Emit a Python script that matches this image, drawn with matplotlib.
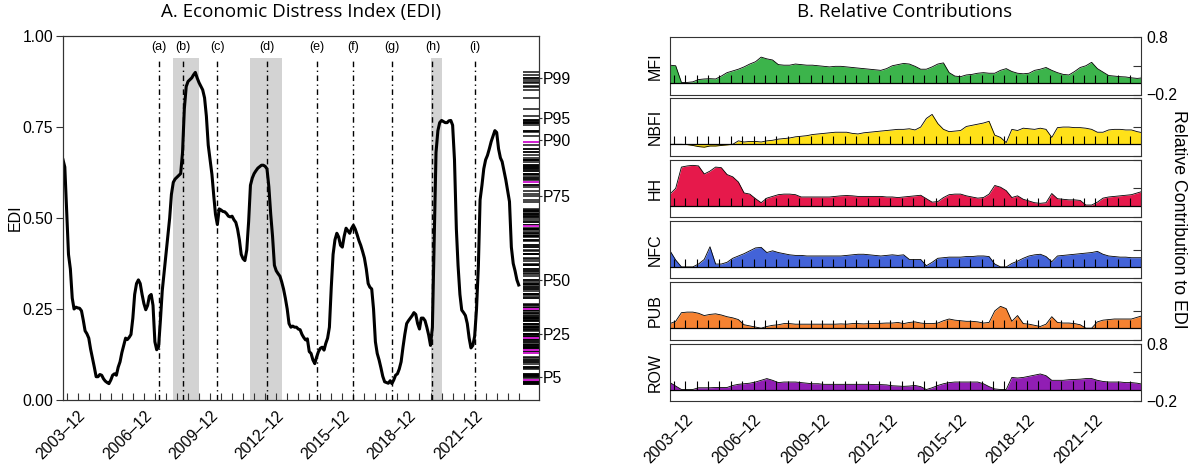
import numpy as np
import pandas as pd
import matplotlib
matplotlib.use("Agg")
import matplotlib.pyplot as plt
from matplotlib.transforms import blended_transform_factory

plt.rcParams['font.family'] = ['Liberation Sans', 'DejaVu Sans']

# ---------------- data ----------------
edi = [
    0.66, 0.64, 0.52, 0.40, 0.36, 0.28, 0.25, 0.255, 0.253, 0.252, 0.245, 0.22,
    0.19, 0.182, 0.17, 0.14, 0.115, 0.09, 0.064, 0.064, 0.07, 0.068, 0.058, 0.052,
    0.048, 0.045, 0.055, 0.068, 0.072, 0.068, 0.09, 0.105, 0.13, 0.15, 0.17, 0.166,
    0.172, 0.18, 0.225, 0.29, 0.32, 0.33, 0.32, 0.29, 0.265, 0.248, 0.26, 0.285,
    0.29, 0.26, 0.16, 0.138, 0.146, 0.22, 0.30, 0.35, 0.40, 0.45, 0.50, 0.565,
    0.598, 0.607, 0.612, 0.617, 0.622, 0.68, 0.80, 0.861, 0.875, 0.88, 0.885, 0.893,
    0.90, 0.885, 0.872, 0.862, 0.852, 0.83, 0.78, 0.70, 0.66, 0.62, 0.56, 0.51,
    0.482, 0.525, 0.522, 0.518, 0.517, 0.512, 0.505, 0.503, 0.505, 0.495, 0.488, 0.47,
    0.44, 0.40, 0.388, 0.383, 0.412, 0.49, 0.59, 0.61, 0.622, 0.63, 0.637, 0.641,
    0.645, 0.645, 0.642, 0.635, 0.586, 0.51, 0.45, 0.37, 0.355, 0.347, 0.34, 0.325,
    0.305, 0.28, 0.25, 0.21, 0.20, 0.203, 0.20, 0.20, 0.195, 0.193, 0.18, 0.172,
    0.165, 0.168, 0.133, 0.128, 0.11, 0.10, 0.118, 0.133, 0.142, 0.145, 0.137, 0.155,
    0.17, 0.20, 0.31, 0.40, 0.44, 0.458, 0.448, 0.425, 0.42, 0.45, 0.472, 0.465,
    0.458, 0.471, 0.48, 0.47, 0.455, 0.438, 0.425, 0.408, 0.39, 0.36, 0.32, 0.31,
    0.305, 0.25, 0.16, 0.128, 0.11, 0.088, 0.065, 0.05, 0.048, 0.046, 0.053, 0.045,
    0.055, 0.068, 0.072, 0.085, 0.105, 0.145, 0.18, 0.21, 0.218, 0.225, 0.232, 0.24,
    0.235, 0.21, 0.195, 0.225, 0.225, 0.218, 0.20, 0.178, 0.15, 0.20, 0.45, 0.68,
    0.74, 0.762, 0.768, 0.765, 0.762, 0.762, 0.767, 0.768, 0.755, 0.66, 0.47, 0.37,
    0.29, 0.247, 0.24, 0.232, 0.21, 0.17, 0.143, 0.15, 0.175, 0.25, 0.37, 0.55,
    0.59, 0.635, 0.66, 0.672, 0.69, 0.71, 0.725, 0.74, 0.735, 0.69, 0.665, 0.655,
    0.63, 0.605, 0.575, 0.545, 0.42, 0.375, 0.355, 0.33, 0.316,
]
edi_start = "2003-04-01"

event_labels = ["(a)", "(b)", "(c)", "(d)", "(e)", "(f)", "(g)", "(h)", "(i)"]
event_dates = ["2007-08-01", "2008-09-01", "2010-04-01", "2012-07-01", "2014-10-01",
               "2016-06-01", "2018-03-01", "2020-01-01", "2021-12-01"]
recession_starts = ["2008-04-01", "2011-10-01", "2019-12-01"]
recession_ends = ["2009-06-01", "2013-03-01", "2020-06-01"]

pct_labels = ["P5", "P25", "P50", "P75", "P90", "P95", "P99"]
pct_levels = [5, 25, 50, 75, 90, 95, 99]
highlight_values = [0.71, 0.598, 0.479, 0.249, 0.170, 0.137, 0.130, 0.055]

sectors = ["MFI", "NBFI", "HH", "NFC", "PUB", "ROW"]
sector_colors = ["#3cb44b", "#ffe119", "#e6194b", "#4363d8", "#f58231", "#911eb4"]
contrib_start = "2003-04-01"

mfi = [0.31, 0.30, 0.01, 0.01, 0.02, 0.06, 0.07, 0.075, 0.07, 0.12, 0.18, 0.21,
       0.24, 0.28, 0.33, 0.37, 0.45, 0.42, 0.40, 0.32, 0.31, 0.31, 0.33, 0.32,
       0.31, 0.31, 0.30, 0.29, 0.28, 0.29, 0.29, 0.28, 0.27, 0.26, 0.25, 0.24,
       0.23, 0.22, 0.25, 0.30, 0.32, 0.34, 0.33, 0.29, 0.24, 0.24, 0.28, 0.33,
       0.35, 0.18, 0.12, 0.11, 0.14, 0.15, 0.17, 0.18, 0.17, 0.17, 0.22, 0.25,
       0.20, 0.17, 0.16, 0.17, 0.22, 0.24, 0.27, 0.22, 0.18, 0.15, 0.14, 0.20,
       0.27, 0.30, 0.36, 0.25, 0.19, 0.13, 0.12, 0.11, 0.105, 0.09, 0.08, 0.09]
nbfi = [0.0, 0.0, 0.0, -0.005, -0.02, -0.04, -0.05, -0.03, -0.03, -0.02, -0.01, 0.0,
        0.06, 0.04, 0.05, 0.05, 0.04, 0.06, 0.07, 0.09, 0.10, 0.11, 0.13, 0.14,
        0.15, 0.17, 0.18, 0.19, 0.20, 0.21, 0.21, 0.21, 0.19, 0.18, 0.20, 0.21,
        0.22, 0.23, 0.24, 0.25, 0.26, 0.26, 0.27, 0.25, 0.30, 0.45, 0.52, 0.36,
        0.26, 0.22, 0.23, 0.24, 0.31, 0.33, 0.35, 0.37, 0.40, 0.16, 0.12, 0.03,
        0.26, 0.24, 0.28, 0.27, 0.26, 0.28, 0.26, 0.12, 0.29, 0.30, 0.30, 0.29,
        0.29, 0.28, 0.26, 0.21, 0.21, 0.25, 0.26, 0.26, 0.25, 0.25, 0.22, 0.20]
hh = [0.20, 0.30, 0.67, 0.69, 0.70, 0.69, 0.55, 0.60, 0.67, 0.66, 0.54, 0.50,
      0.41, 0.22, 0.20, 0.12, 0.05, 0.13, 0.16, 0.19, 0.20, 0.20, 0.19, 0.15,
      0.15, 0.15, 0.15, 0.15, 0.15, 0.16, 0.17, 0.175, 0.17, 0.16, 0.16, 0.16,
      0.16, 0.16, 0.15, 0.15, 0.14, 0.15, 0.16, 0.17, 0.18, 0.12, 0.06, 0.07,
      0.14, 0.19, 0.20, 0.20, 0.17, 0.15, 0.13, 0.14, 0.20, 0.35, 0.32, 0.26,
      0.14, 0.17, 0.11, 0.08, 0.05, 0.04, 0.05, 0.21, 0.12, 0.11, 0.10, 0.10,
      0.09, 0.01, 0.01, 0.06, 0.13, 0.15, 0.16, 0.17, 0.18, 0.19, 0.22, 0.25]
nfc = [0.28, 0.12, 0.0, 0.0, 0.0, 0.05, 0.13, 0.35, 0.05, 0.05, 0.08, 0.15,
       0.19, 0.23, 0.28, 0.33, 0.34, 0.25, 0.28, 0.25, 0.23, 0.21, 0.20, 0.20,
       0.19, 0.19, 0.19, 0.19, 0.19, 0.19, 0.19, 0.20, 0.21, 0.22, 0.22, 0.21,
       0.20, 0.19, 0.20, 0.21, 0.20, 0.21, 0.13, 0.13, 0.13, 0.02, 0.08, 0.15,
       0.16, 0.17, 0.17, 0.17, 0.18, 0.18, 0.19, 0.19, 0.18, 0.05, 0.0, 0.0,
       0.06, 0.10, 0.15, 0.19, 0.21, 0.22, 0.18, 0.09, 0.19, 0.20, 0.21, 0.22,
       0.23, 0.24, 0.25, 0.27, 0.22, 0.19, 0.18, 0.17, 0.17, 0.16, 0.16, 0.16]
pub = [0.08, 0.12, 0.27, 0.28, 0.28, 0.26, 0.22, 0.24, 0.25, 0.23, 0.20, 0.18,
       0.15, 0.06, 0.04, 0.02, 0.0, 0.03, 0.05, 0.06, 0.08, 0.08, 0.07, 0.07,
       0.07, 0.07, 0.07, 0.07, 0.07, 0.07, 0.075, 0.07, 0.08, 0.08, 0.075, 0.08,
       0.08, 0.085, 0.09, 0.09, 0.10, 0.08, 0.10, 0.11, 0.09, 0.08, 0.08, 0.09,
       0.13, 0.16, 0.14, 0.13, 0.12, 0.12, 0.11, 0.09, 0.10, 0.30, 0.38, 0.34,
       0.12, 0.22, 0.08, 0.07, 0.05, 0.03, 0.07, 0.20, 0.10, 0.09, 0.09, 0.08,
       0.06, 0.0, 0.0, 0.11, 0.14, 0.15, 0.16, 0.16, 0.16, 0.16, 0.19, 0.22]
row = [0.12, 0.06, 0.0, 0.0, 0.0, 0.03, 0.03, 0.03, 0.035, 0.035, 0.035, 0.07,
       0.09, 0.10, 0.11, 0.13, 0.16, 0.19, 0.16, 0.12, 0.13, 0.13, 0.13, 0.12,
       0.11, 0.10, 0.10, 0.09, 0.09, 0.09, 0.09, 0.09, 0.09, 0.09, 0.09, 0.09,
       0.085, 0.085, 0.08, 0.065, 0.06, 0.055, 0.06, 0.07, 0.05, 0.0, 0.03, 0.07,
       0.10, 0.12, 0.13, 0.13, 0.13, 0.13, 0.13, 0.10, 0.05, 0.01, 0.0, 0.0,
       0.21, 0.20, 0.21, 0.23, 0.25, 0.27, 0.24, 0.16, 0.16, 0.16, 0.17, 0.175,
       0.18, 0.19, 0.19, 0.16, 0.14, 0.13, 0.13, 0.13, 0.12, 0.12, 0.11, 0.09]

# ---------------- figure ----------------
W, H = 1193, 468
fig = plt.figure(figsize=(W / 100, H / 100), dpi=100)

dates = pd.date_range(edi_start, periods=len(edi), freq="MS")
cdates = pd.date_range(contrib_start, periods=len(mfi), freq="3MS")
tick_dates = pd.date_range("2003-06-01", dates[-1], freq="6MS")
tick_labels = [d.strftime("%Y\u2013%m") if (d.month == 12 and (d.year - 2003) % 3 == 0) else ""
               for d in tick_dates]
edge = "#333333"
TS = 11.3

# ---- Panel A ----
ax = fig.add_axes([63 / W, (H - 400) / H, 476 / W, 364 / H])
for s, e in zip(recession_starts, recession_ends):
    ax.axvspan(pd.Timestamp(s), pd.Timestamp(e), ymin=0, ymax=0.94,
               color="#d3d3d3", lw=0, zorder=0)
tr_ev = blended_transform_factory(ax.transData, ax.transAxes)
for lab, d in zip(event_labels, event_dates):
    ax.axvline(pd.Timestamp(d), ymin=0, ymax=0.94, color="black", lw=1.0,
               ls=(0, (4, 2.5, 1, 2.5)), zorder=2)
    ax.text(pd.Timestamp(d), 0.97, lab, transform=tr_ev, ha="center", va="center",
            fontsize=9)
ax.plot(dates, edi, color="black", lw=2.2, zorder=3, solid_joinstyle="round")

tr_rug = blended_transform_factory(ax.transAxes, ax.transData)
ax.hlines(edi, 0.966, 1.0, transform=tr_rug, color="black", lw=1.2, alpha=0.85, zorder=2)
ax.hlines(highlight_values, 0.966, 1.0, transform=tr_rug, color="#e020e0", lw=1.3, zorder=3)

ax.set_xlim(dates[0], pd.Timestamp("2024-11-01"))
ax.set_ylim(0, 1)
ax.set_yticks([0, 0.25, 0.5, 0.75, 1.0])
ax.set_yticklabels(["0.00", "0.25", "0.50", "0.75", "1.00"])
ax.set_xticks(tick_dates)
ax.set_xticklabels(tick_labels, rotation=45, ha="right", rotation_mode="anchor")
ax.tick_params(axis="x", direction="in", length=5, labelsize=TS, pad=6, color=edge)
ax.tick_params(axis="y", direction="out", length=5, labelsize=TS, pad=2, color=edge)
ax.set_ylabel("EDI", fontsize=11.5, labelpad=0)
for sp in ax.spines.values():
    sp.set_color(edge)

ax2 = ax.twinx()
ax2.set_ylim(0, 1)
ax2.set_yticks(np.percentile(edi, pct_levels))
ax2.set_yticklabels(pct_labels)
ax2.tick_params(axis="y", length=2, pad=1, labelsize=TS, color=edge)
for sp in ax2.spines.values():
    sp.set_color(edge)

fig.text(301 / W, 1 - 12 / H, "A. Economic Distress Index (EDI)", ha="center", va="center",
         fontsize=13.5, family=["Open Sans", "DejaVu Sans"])

# ---- Panel B ----
series = [mfi, nbfi, hh, nfc, pub, row]
ph, pg = 57.5, 3.8
for i, (name, col, vals) in enumerate(zip(sectors, sector_colors, series)):
    top = 37 + i * (ph + pg)
    bax = fig.add_axes([670 / W, (H - top - ph) / H, 471 / W, ph / H])
    bax.fill_between(cdates, 0, vals, color=col, lw=0, zorder=1)
    bax.plot(cdates, vals, color="black", lw=0.6, zorder=2)
    bax.axhline(0, color="black", lw=0.9, zorder=3)
    bax.vlines(tick_dates, 0, 0.14, color="black", lw=0.8, zorder=3)
    bax.set_xlim(dates[0], dates[-1])
    bax.set_ylim(-0.2, 0.8)
    bax.yaxis.set_ticks_position("right")
    bax.set_yticks([-0.2, 0.3, 0.8])
    if i in (0, len(sectors) - 1):
        bax.set_yticklabels(["\u22120.2", "", "0.8"])
    else:
        bax.set_yticklabels(["", "", ""])
    bax.tick_params(axis="y", direction="in", length=6, labelsize=TS, pad=4, color=edge)
    bax.set_xticks(tick_dates)
    if i == len(sectors) - 1:
        bax.set_xticklabels(tick_labels, rotation=45, ha="right", rotation_mode="anchor")
    else:
        bax.set_xticklabels([""] * len(tick_dates))
    bax.tick_params(axis="x", length=0, labelsize=TS, pad=8)
    bax.set_ylabel(name, fontsize=11.5, labelpad=5)
    for sp in bax.spines.values():
        sp.set_color(edge)

fig.text(905 / W, 1 - 12 / H, "B. Relative Contributions", ha="center", va="center",
         fontsize=13.5, family=["Open Sans", "DejaVu Sans"])
fig.text(1178 / W, 1 - 219 / H, "Relative Contribution to EDI", rotation=270,
         ha="center", va="center", fontsize=12.8)

fig.savefig("out.png", dpi=100)
